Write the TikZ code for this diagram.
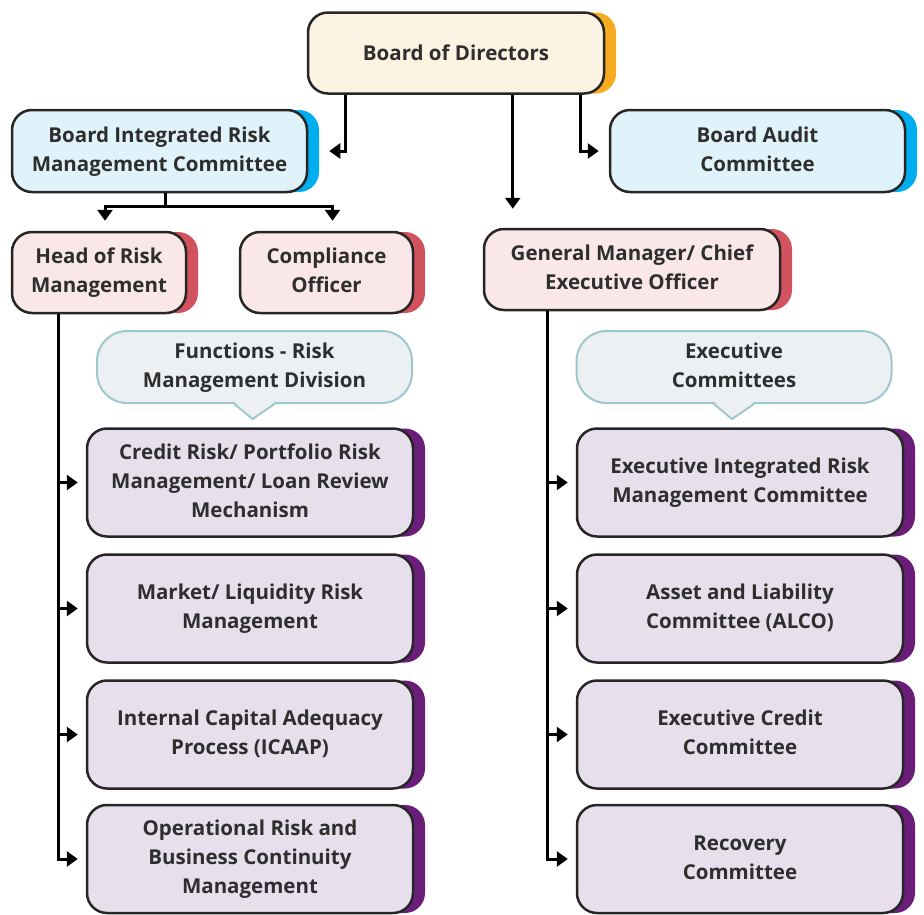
\documentclass[tikz,border=0pt]{standalone}
\usepackage{fontspec}
\setmainfont{Open Sans}
\usetikzlibrary{arrows.meta,shadows,calc}
\definecolor{edge}{HTML}{262626}
\definecolor{txt}{HTML}{2E2E2E}
\definecolor{bfill}{HTML}{FDF3E3}
\definecolor{bsh}{HTML}{F7AB1F}
\definecolor{cfillb}{HTML}{E1F3FA}
\definecolor{cshb}{HTML}{00AEEF}
\definecolor{pfill}{HTML}{F9E8E7}
\definecolor{psh}{HTML}{D2535F}
\definecolor{vfill}{HTML}{E7DFEC}
\definecolor{vsh}{HTML}{6B1D7A}
\definecolor{kfill}{HTML}{ECF0F3}
\definecolor{kedge}{HTML}{9DC8CE}
\newcommand\mylines[1]{\raisebox{-3.5pt}{\begin{tabular}{@{}c@{}}#1\end{tabular}}}
\begin{document}
\begin{tikzpicture}[x=1pt,y=-1pt,
  box/.style={draw=edge, line width=2.5pt, rounded corners=20pt,
    text=txt, font=\fontsize{20.5}{29}\selectfont\bfseries, inner sep=0pt},
  sh/.style={general shadow={fill=#1, shadow xshift=12pt, shadow yshift=0pt}},
  board/.style={box, fill=bfill, sh=bsh},
  bluebox/.style={box, fill=cfillb, sh=cshb},
  pinkbox/.style={box, fill=pfill, sh=psh},
  purpbox/.style={box, fill=vfill, sh=vsh, minimum width=326pt, minimum height=108pt},
  callout/.style={draw=kedge, fill=kfill, line width=2pt, rounded corners=30pt,
    text=txt, font=\fontsize{20.5}{29}\selectfont\bfseries, inner sep=0pt,
    minimum width=315pt, minimum height=72pt},
  arr/.style={draw=black, line width=3pt, -{Triangle[width=15pt,length=11pt]}},
  ]
\useasboundingbox (0,0) rectangle (924,914);

\node[board, minimum width=296pt, minimum height=81pt] (bod) at (456,53) {Board of Directors};
\node[bluebox, minimum width=295pt, minimum height=82pt] (birmc) at (159.5,151) {\mylines{Board Integrated Risk\\Management Committee}};
\node[bluebox, minimum width=295pt, minimum height=82pt] (bac) at (757.5,151) {\mylines{Board Audit\\Committee}};
\node[pinkbox, minimum width=174pt, minimum height=81pt] (hrm) at (99,272.5) {\mylines{Head of Risk\\Management}};
\node[pinkbox, minimum width=173pt, minimum height=81pt] (co) at (326.5,272.5) {\mylines{Compliance\\Officer}};
\node[pinkbox, minimum width=296pt, minimum height=81pt] (gm) at (632,269.5) {\mylines{General Manager/ Chief\\Executive Officer}};

% callouts
\node[callout] (fc) at (254.5,367) {\mylines{Functions - Risk\\Management Division}};
\fill[kfill] ($(fc.south)+(-20,-2)$) -- ($(fc.south)+(20,-2)$) -- ($(fc.south)+(0,15)$) -- cycle;
\draw[kedge, line width=2pt, line join=round] ($(fc.south)+(-20,0)$) -- ($(fc.south)+(-2,15)$) -- ($(fc.south)+(20,0)$);
\node[callout] (ec) at (734,367) {\mylines{Executive\\Committees}};
\fill[kfill] ($(ec.south)+(-20,-2)$) -- ($(ec.south)+(20,-2)$) -- ($(ec.south)+(0,15)$) -- cycle;
\draw[kedge, line width=2pt, line join=round] ($(ec.south)+(-20,0)$) -- ($(ec.south)+(-2,15)$) -- ($(ec.south)+(20,0)$);

% left column
\node[purpbox] (l1) at (250,482.5) {\mylines{Credit Risk/ Portfolio Risk\\Management/ Loan Review\\Mechanism}};
\node[purpbox] (l2) at (250,608.5) {\mylines{Market/ Liquidity Risk\\Management}};
\node[purpbox] (l3) at (250,734.5) {\mylines{Internal Capital Adequacy\\Process (ICAAP)}};
\node[purpbox] (l4) at (250,859) {\mylines{Operational Risk and\\Business Continuity\\Management}};
% right column
\node[purpbox] (r1) at (740,482.5) {\mylines{Executive Integrated Risk\\Management Committee}};
\node[purpbox] (r2) at (740,608.5) {\mylines{Asset and Liability\\Committee (ALCO)}};
\node[purpbox] (r3) at (740,734.5) {\mylines{Executive Credit\\Committee}};
\node[purpbox] (r4) at (740,859) {\mylines{Recovery\\Committee}};

% connectors from board
\coordinate (b1) at ($(bod.south west)+(39,0)$);
\coordinate (b2) at ($(bod.south west)+(206,0)$);
\coordinate (b3) at ($(bod.south west)+(274,0)$);
\draw[arr] (b1) |- ([xshift=21pt]birmc.east);
\draw[arr] (b2) -- ($(gm.north -| b2)+(0,-19)$);
\draw[arr] (b3) |- ([xshift=-10pt]bac.west);

% birmc split
\coordinate (s0) at ($(birmc.south)+(6,0)$);
\coordinate (s1) at ($(s0)+(0,13)$);
\draw[line width=3pt] (s0) -- (s1);
\draw[arr] (s1) -| ($(hrm.north)+(6,-10)$);
\draw[arr] (s1) -| ($(co.north)+(6,-10)$);

% left trunk
\coordinate (hl) at ($(hrm.south west)+(48,0)$);
\draw[arr] (hl) |- ([xshift=-8pt]l4.west);
\draw[arr] (hl |- l1.west) -- ([xshift=-8pt]l1.west);
\draw[arr] (hl |- l2.west) -- ([xshift=-8pt]l2.west);
\draw[arr] (hl |- l3.west) -- ([xshift=-8pt]l3.west);

% right trunk
\coordinate (gl) at ($(gm.south west)+(65,0)$);
\draw[arr] (gl) |- ([xshift=-8pt]r4.west);
\draw[arr] (gl |- r1.west) -- ([xshift=-8pt]r1.west);
\draw[arr] (gl |- r2.west) -- ([xshift=-8pt]r2.west);
\draw[arr] (gl |- r3.west) -- ([xshift=-8pt]r3.west);
\end{tikzpicture}
\end{document}
